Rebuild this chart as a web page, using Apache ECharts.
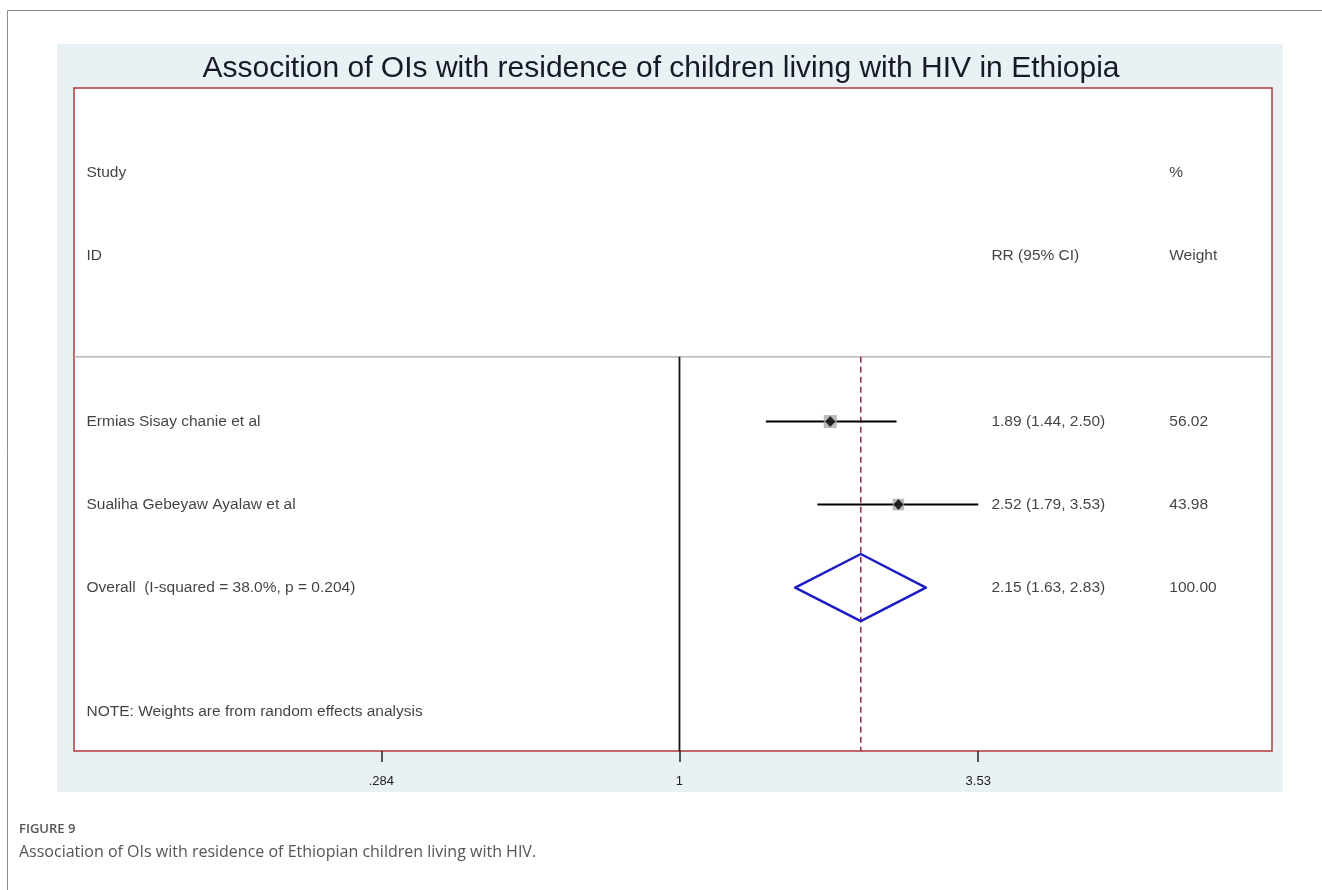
<!DOCTYPE html>
<html>
<head>
<meta charset="utf-8">
<script src="https://cdn.jsdelivr.net/npm/echarts@6/dist/echarts.min.js"></script>
<style>
  html, body { margin: 0; padding: 0; background: #ffffff; }
  #chart { width: 1322px; height: 890px; }
</style>
</head>
<body>
<div id="chart"></div>
<script>
// ---- data ----
const studies = ['Ermias Sisay chanie et al', 'Sualiha Gebeyaw Ayalaw et al'];
const rr = [1.89, 2.52];
const ciLower = [1.44, 1.79];
const ciUpper = [2.50, 3.53];
const weights = [56.02, 43.98];

const overallLabel = 'Overall  (I-squared = 38.0%, p = 0.204)';
const overallRR = 2.15;
const overallCI = [1.63, 2.83];
const overallWeight = 100.00;

const tickValues = [0.284, 1, 3.53];
const tickLabels = ['.284', '1', '3.53'];

const titleText = 'Assocition of OIs with residence of children living with HIV in Ethiopia';
const noteText = 'NOTE: Weights are from random effects analysis';
const figureLabel = 'FIGURE 9';
const captionText = 'Association of OIs with residence of Ethiopian children living with HIV.';

// ---- layout (rows counted top-down, x in log-RR units) ----
const ln = Math.log;
const xMin = ln(0.0776), xMax = ln(12.2);
const yMin = -0.02, yMax = 7.97;
const rowStudy = 1, rowId = 2, rowSep = 3.22, studyRows = [4, 5], rowOverall = 6, rowNote = 7.5;
const colRR = ln(3.54), colW = ln(7.5);
const textFont = "'Liberation Sans', Arial, sans-serif";

const fmt = v => v.toFixed(2);

// text cells: left column, RR column, weight column
const textItems = [];
textItems.push({ name: 'Study', value: [xMin, rowStudy] });
textItems.push({ name: 'ID', value: [xMin, rowId] });
studies.forEach((s, i) => textItems.push({ name: s, value: [xMin, studyRows[i]] }));
textItems.push({ name: overallLabel, value: [xMin, rowOverall] });
textItems.push({ name: noteText, value: [xMin, rowNote] });
textItems.push({ name: 'RR (95% CI)', value: [colRR, rowId] });
textItems.push({ name: '%', value: [colW, rowStudy] });
textItems.push({ name: 'Weight', value: [colW, rowId] });
rr.forEach((v, i) => {
  textItems.push({ name: fmt(v) + ' (' + fmt(ciLower[i]) + ', ' + fmt(ciUpper[i]) + ')', value: [colRR, studyRows[i]] });
  textItems.push({ name: fmt(weights[i]), value: [colW, studyRows[i]] });
});
textItems.push({ name: fmt(overallRR) + ' (' + fmt(overallCI[0]) + ', ' + fmt(overallCI[1]) + ')', value: [colRR, rowOverall] });
textItems.push({ name: fmt(overallWeight), value: [colW, rowOverall] });

const ciData = rr.map((v, i) => [ln(ciLower[i]), ln(ciUpper[i]), studyRows[i]]);
const pointData = rr.map((v, i) => [ln(v), studyRows[i], weights[i]]);

const chart = echarts.init(document.getElementById('chart'), null, { renderer: 'canvas' });

chart.setOption({
  animation: false,
  backgroundColor: '#ffffff',
  title: {
    text: titleText,
    left: 'center',
    top: 54,
    padding: 0,
    textStyle: {
      fontFamily: textFont,
      fontSize: 30,
      fontWeight: 'normal',
      color: '#161a26'
    }
  },
  graphic: [
    { type: 'line', silent: true, z: -200, shape: { x1: 7.5, y1: 10.5, x2: 1322, y2: 10.5 }, style: { stroke: '#8c8c8c', lineWidth: 1 } },
    { type: 'line', silent: true, z: -200, shape: { x1: 7.5, y1: 10.5, x2: 7.5, y2: 890 }, style: { stroke: '#8c8c8c', lineWidth: 1 } },
    { type: 'rect', silent: true, z: -100, shape: { x: 57, y: 44, width: 1226, height: 748 }, style: { fill: '#eaf1f4' } },
    { type: 'text', silent: true, left: 19, top: 823, style: { text: figureLabel, font: "600 13px 'Open Sans', sans-serif", fill: '#555555' } },
    { type: 'text', silent: true, left: 19, top: 844, style: { text: captionText, font: "16px 'Open Sans', sans-serif", fill: '#555555' } }
  ],
  grid: {
    left: 74, right: 50, top: 88, bottom: 139,
    show: true,
    backgroundColor: '#ffffff',
    borderColor: '#b23a3c',
    borderWidth: 1.5
  },
  xAxis: {
    type: 'value',
    position: 'bottom',
    min: xMin, max: xMax,
    axisLine: { show: false, onZero: false },
    splitLine: { show: false },
    axisTick: {
      show: true, length: 11,
      customValues: tickValues.map(ln),
      lineStyle: { color: '#222222', width: 1.5 }
    },
    axisLabel: {
      show: true,
      customValues: tickValues.map(ln),
      margin: 24,
      fontFamily: textFont,
      fontSize: 13,
      color: '#222222',
      formatter: v => {
        const i = tickValues.findIndex(t => Math.abs(ln(t) - v) < 1e-6);
        return i >= 0 ? tickLabels[i] : '';
      }
    }
  },
  yAxis: {
    type: 'value',
    inverse: true,
    min: yMin, max: yMax,
    show: false
  },
  series: [
    // header separator
    {
      type: 'line', silent: true, symbol: 'none', z: 1,
      data: [[xMin, rowSep], [xMax, rowSep]],
      lineStyle: { color: '#a8a8a8', width: 1.2 }
    },
    // null line at RR = 1
    {
      type: 'line', silent: true, symbol: 'none', z: 2,
      data: [[0, rowSep], [0, yMax]],
      lineStyle: { color: '#111111', width: 1.8 }
    },
    // pooled estimate reference
    {
      type: 'line', silent: true, symbol: 'none', z: 2,
      data: [[ln(overallRR), rowSep], [ln(overallRR), yMax]],
      lineStyle: { color: '#8e2a4a', width: 1.5, type: [6, 4] }
    },
    // confidence intervals
    {
      type: 'custom', silent: true, z: 3,
      data: ciData,
      renderItem: (params, api) => {
        const a = api.coord([api.value(0), api.value(2)]);
        const b = api.coord([api.value(1), api.value(2)]);
        return { type: 'line', shape: { x1: a[0], y1: a[1], x2: b[0], y2: b[1] }, style: { stroke: '#000000', lineWidth: 2 } };
      }
    },
    // weight boxes
    {
      type: 'scatter', silent: true, z: 4,
      symbol: 'rect',
      symbolSize: v => 13 * Math.sqrt(v[2] / weights[0]),
      itemStyle: { color: '#a9a9a9' },
      data: pointData
    },
    // point estimates
    {
      type: 'scatter', silent: true, z: 5,
      symbol: 'diamond',
      symbolSize: [10, 11],
      itemStyle: { color: '#000000' },
      data: pointData
    },
    // pooled diamond
    {
      type: 'custom', silent: true, z: 4,
      data: [[ln(overallCI[0]), ln(overallRR), ln(overallCI[1]), rowOverall]],
      renderItem: (params, api) => {
        const y = api.value(3);
        const p = [
          api.coord([api.value(0), y]),
          api.coord([api.value(1), y - 0.404]),
          api.coord([api.value(2), y]),
          api.coord([api.value(1), y + 0.404])
        ];
        return { type: 'polygon', shape: { points: p }, style: { fill: 'none', stroke: '#1c1cc4', lineWidth: 2.5, lineJoin: 'round' } };
      }
    },
    // table text
    {
      type: 'scatter', silent: true, z: 6,
      symbolSize: 1,
      itemStyle: { color: 'transparent' },
      data: textItems,
      label: {
        show: true,
        position: 'right',
        distance: 12,
        formatter: '{b}',
        fontFamily: textFont,
        fontSize: 15.5,
        color: '#111111'
      }
    }
  ]
});
</script>
</body>
</html>
